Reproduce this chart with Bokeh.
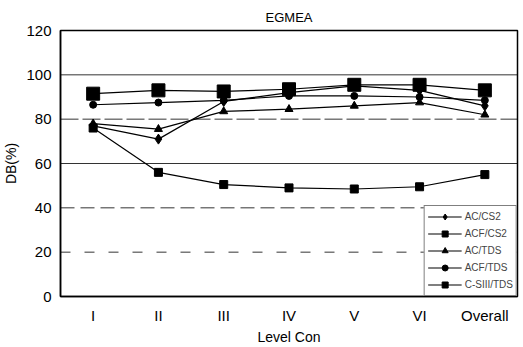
from bokeh.plotting import figure
from bokeh.models import FactorRange, Range1d, Span, Legend, LegendItem, FixedTicker
from bokeh.embed import file_html
from bokeh.resources import INLINE

# ---- data ----
categories = ["I", "II", "III", "IV", "V", "VI", "Overall"]
ac_cs2 = [77, 71, 88, 92, 95, 93, 86]
acf_cs2 = [76, 56, 50.5, 49, 48.5, 49.5, 55]
ac_tds = [78, 75.5, 83.5, 84.5, 86, 87.5, 82]
acf_tds = [86.5, 87.5, 88.5, 90.5, 90.5, 90, 88.5]
csiii_tds = [91.5, 93, 92.5, 93.5, 95.5, 95.5, 93]
series_names = ["AC/CS2", "ACF/CS2", "AC/TDS", "ACF/TDS", "C-SIII/TDS"]
y_ticks = [0, 20, 40, 60, 80, 100, 120]
grid_values = [20, 40, 60, 80, 100]

FONT = "Liberation Sans"

p = figure(width=523, height=347, x_range=FactorRange(*categories, range_padding=0),
           y_range=Range1d(0, 120), output_backend="svg", toolbar_location=None,
           title="EGMEA", min_border_left=10, min_border_right=6,
           min_border_top=30, min_border_bottom=10)
p.title.align = "center"
p.title.text_font = FONT
p.title.text_font_size = "13px"
p.title.text_font_style = "normal"
p.title.text_color = "black"
p.title.offset = 0
p.title.standoff = 12

p.outline_line_color = "black"
p.outline_line_width = 1.5
p.xgrid.grid_line_color = None
p.ygrid.grid_line_color = None

grid_dash = {20: "10 14", 40: "14 6", 60: "solid", 80: "18 4", 100: "solid"}
for g in grid_values:
    p.add_layout(Span(location=g, dimension="width", line_color="black",
                      line_width=1, line_dash=grid_dash[g], line_alpha=0.8))

for ax in (p.xaxis[0], p.yaxis[0]):
    ax.major_tick_line_color = None
    ax.minor_tick_line_color = None
    ax.major_tick_out = 0
    ax.major_tick_in = 0
    ax.minor_tick_out = 0
    ax.minor_tick_in = 0
    ax.axis_line_color = "black"
    ax.axis_line_width = 1.5
    ax.major_label_text_font = FONT
    ax.major_label_text_font_size = "15px"
    ax.major_label_text_color = "black"
    ax.axis_label_text_font = FONT
    ax.axis_label_text_font_size = "14px"
    ax.axis_label_text_font_style = "normal"
    ax.axis_label_text_color = "black"

p.yaxis.ticker = FixedTicker(ticks=y_ticks)
p.yaxis.major_label_standoff = 9
p.yaxis.axis_label = "DB(%)"
p.yaxis.axis_label_standoff = 4
p.xaxis.major_label_standoff = 10
p.xaxis.axis_label = "Level Con"
p.xaxis.axis_label_standoff = 2

items = []
specs = [
    (ac_cs2, "diamond", 10),
    (acf_cs2, "square", 8),
    (ac_tds, "triangle", 8),
    (acf_tds, "circle", 7),
    (csiii_tds, "square", 13),
]
for name, (vals, mk, sz) in zip(series_names, specs):
    ln = p.line(categories, vals, line_color="black", line_width=1.2)
    sc = p.scatter(categories, vals, marker=mk, size=sz, fill_color="black", line_color="black")
    items.append(LegendItem(label=name, renderers=[ln, sc]))

legend = Legend(items=items, location="bottom_right", margin=0, padding=3, spacing=2,
                label_text_font=FONT, label_text_font_size="10px",
                glyph_width=34, glyph_height=15, label_height=15, label_standoff=3,
                border_line_color="black", border_line_width=1,
                background_fill_color="white", background_fill_alpha=1)
p.add_layout(legend)

open("out.html", "w").write(file_html(p, INLINE))
